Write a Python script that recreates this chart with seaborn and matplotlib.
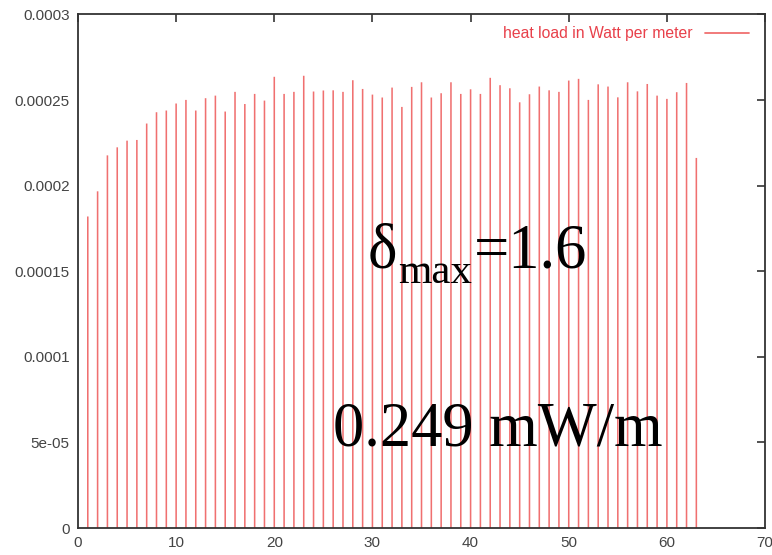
import numpy as np
import pandas as pd
import matplotlib
matplotlib.use("Agg")
import matplotlib.pyplot as plt
from matplotlib.lines import Line2D
import seaborn as sns

# ---- data ----
positions = list(range(1, 64))
heat_load = [
    1.82, 1.967, 2.177, 2.224, 2.263, 2.267, 2.363, 2.429, 2.439, 2.480,
    2.501, 2.439, 2.511, 2.526, 2.433, 2.548, 2.477, 2.536, 2.497, 2.636,
    2.536, 2.548, 2.642, 2.550, 2.556, 2.557, 2.548, 2.616, 2.565, 2.532,
    2.515, 2.573, 2.460, 2.577, 2.604, 2.515, 2.540, 2.604, 2.536, 2.563,
    2.536, 2.630, 2.587, 2.569, 2.487, 2.534, 2.579, 2.557, 2.548, 2.614,
    2.624, 2.501, 2.592, 2.579, 2.516, 2.604, 2.551, 2.594, 2.526, 2.507,
    2.546, 2.600, 2.162,
]
heat_load = [v * 1e-4 for v in heat_load]
series_label = "heat load in Watt per meter"
x_ticks = [0, 10, 20, 30, 40, 50, 60, 70]
y_ticks = [0, 0.00005, 0.0001, 0.00015, 0.0002, 0.00025, 0.0003]
y_tick_labels = ["0", "5e-05", "0.0001", "0.00015", "0.0002", "0.00025", "0.0003"]
annot_delta_parts = ["δ", "max", "=1.6"]
annot_power = "0.249 mW/m"

df = pd.DataFrame({"pos": positions, "load": heat_load})

sns.set_theme(style="white")
plt.rcParams["font.family"] = ["Liberation Sans", "DejaVu Sans"]

bar_color = "#f07070"
fig = plt.figure(figsize=(7.72, 5.55), dpi=100)
ax = fig.add_axes([0.101, 0.0486, 0.890, 0.9253])

sns.barplot(data=df, x="pos", y="load", native_scale=True, width=0.16,
            color=bar_color, saturation=1, edgecolor="none", linewidth=0,
            ax=ax)
for p in ax.patches:
    p.set_snap(False)
    p.set_antialiased(True)

ax.set_xlim(0, 70)
ax.set_ylim(0, 0.0003)
ax.set_xticks(x_ticks)
ax.set_xticklabels([str(t) for t in x_ticks])
ax.set_yticks(y_ticks)
ax.set_yticklabels(y_tick_labels)
ax.set_xlabel("")
ax.set_ylabel("")

for s in ax.spines.values():
    s.set_visible(True)
    s.set_color("#333333")
    s.set_linewidth(1.3)

ax.tick_params(axis="both", which="major", direction="in", length=6, width=1.2,
               color="#333333", top=True, right=True, labelsize=11,
               labelcolor="#444444", pad=6)

handle = Line2D([0], [0], color=bar_color, lw=1.3)
leg = ax.legend([handle], [series_label], loc="upper right", frameon=False,
                markerfirst=False, handlelength=2.8, handletextpad=0.75,
                fontsize=11.3, bbox_to_anchor=(0.99, 0.995), borderaxespad=0.2)
for t in leg.get_texts():
    t.set_color("#e8404a")

serif = "Liberation Serif"
t_delta = ax.text(29.5, 1.52e-4, annot_delta_parts[0], fontsize=45, family=serif,
                  ha="left", va="baseline", color="black")
fig.canvas.draw()
r = fig.canvas.get_renderer()
bb = t_delta.get_window_extent(r)
t_max = ax.annotate(annot_delta_parts[1], xy=(29.5, 1.52e-4), xycoords="data",
                    xytext=(bb.width * 72 / fig.dpi + 1, -11), textcoords="offset points",
                    fontsize=31, family=serif, ha="left", va="baseline", color="black")
fig.canvas.draw()
bb2 = t_max.get_window_extent(r)
t_eq = ax.annotate(annot_delta_parts[2], xy=(29.5, 1.52e-4), xycoords="data",
                   xytext=((bb2.x1 - bb.x0) * 72 / fig.dpi + 1, 0), textcoords="offset points",
                   fontsize=45, family=serif, ha="left", va="baseline", color="black")

ax.text(26.0, 0.485e-4, annot_power, fontsize=45, family=serif,
        ha="left", va="baseline", color="black")

fig.savefig("out.png", dpi=100)
